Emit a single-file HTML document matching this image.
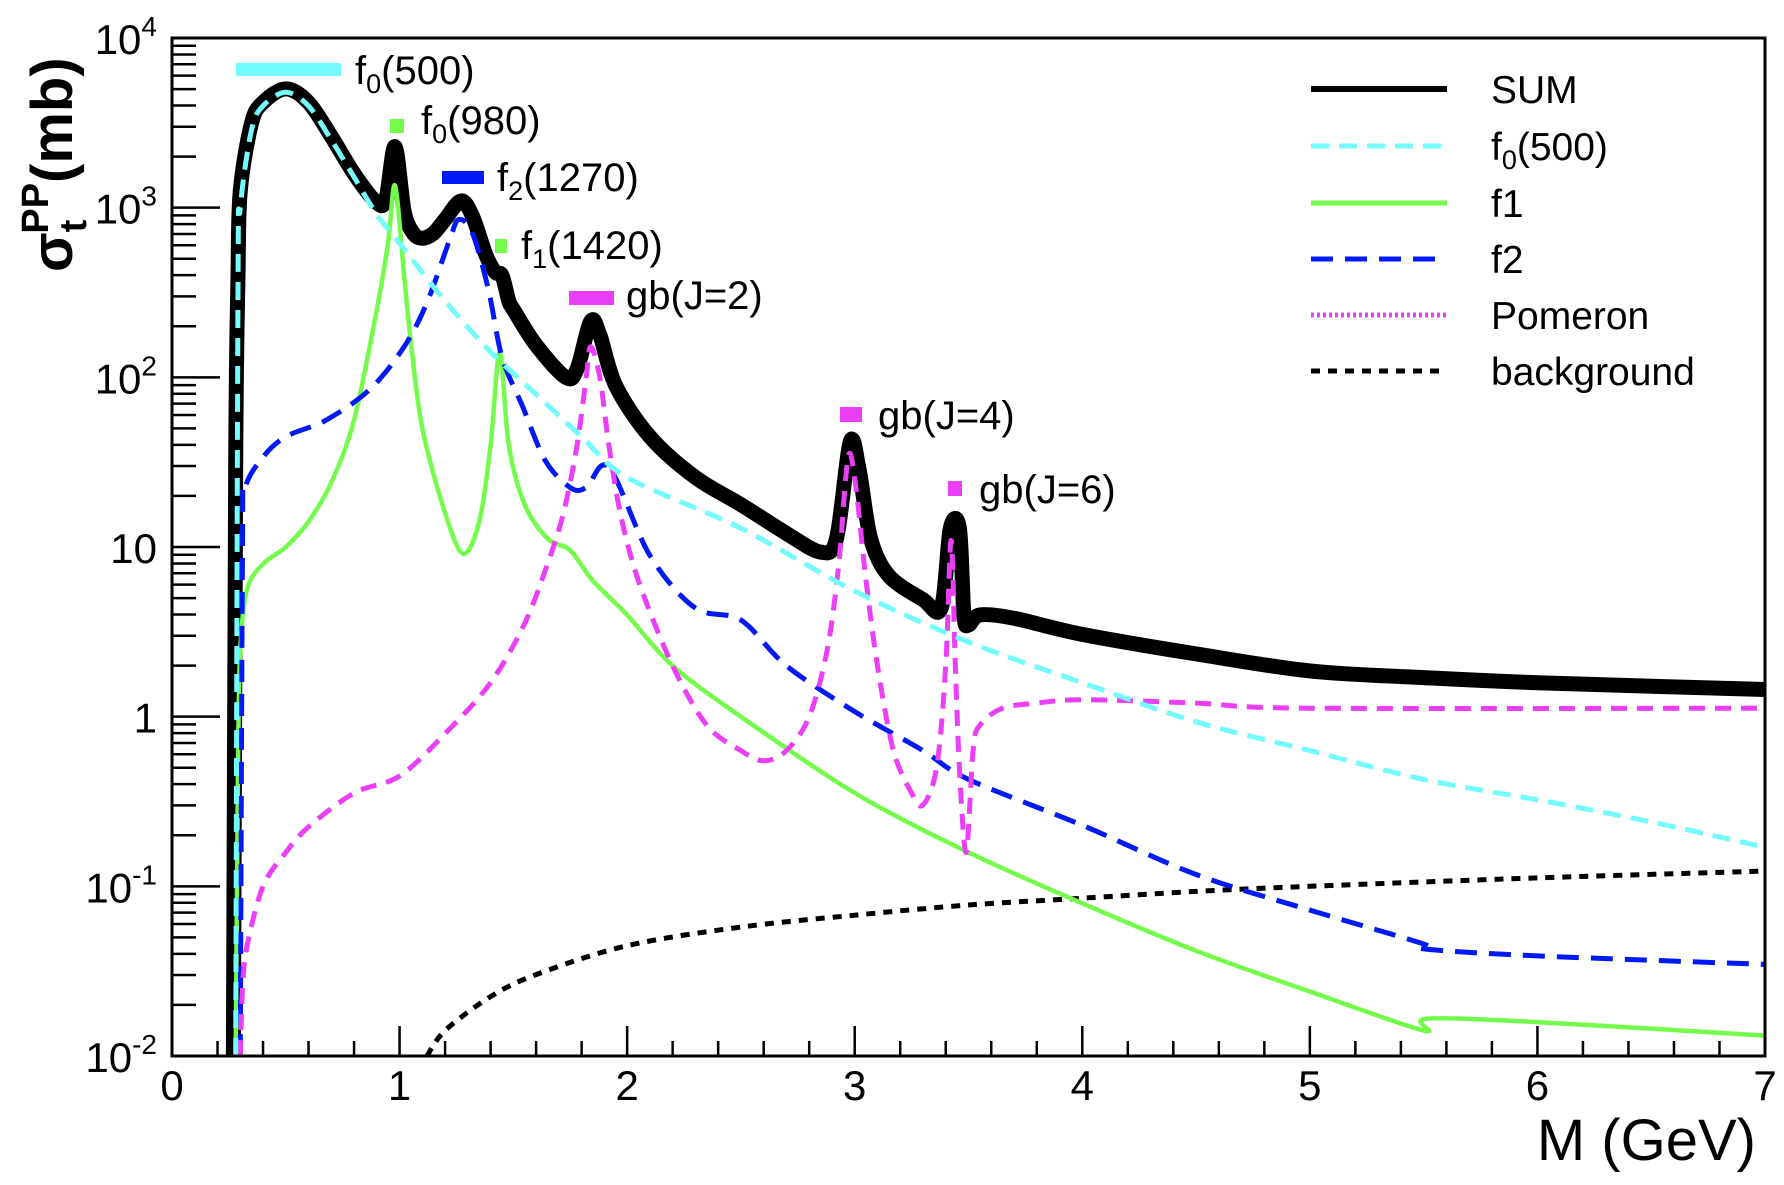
<!DOCTYPE html>
<html><head><meta charset="utf-8"><style>
html,body{margin:0;padding:0;background:#fff;}
svg text{font-family:"Liberation Sans",sans-serif;}
</style></head><body>
<svg id="chart" width="1784" height="1180" xmlns="http://www.w3.org/2000/svg">
<rect width="1784" height="1180" fill="#fff"/>
<g id="ticks"></g>
<g id="series"></g>
<rect x="172" y="38" width="1593" height="1018" fill="none" stroke="#000" stroke-width="3"/>
<g id="labels"></g>
<text x="1756" y="1160" font-size="58" text-anchor="end">M (GeV)</text>
<text transform="translate(72,272) rotate(-90)" font-size="58" font-weight="bold">σ<tspan font-size="38" dy="14">t</tspan><tspan font-size="38" dy="-38" dx="-14">PP</tspan><tspan dy="24">(mb)</tspan></text>
<g font-size="40">
<rect x="236" y="63" width="105" height="13" fill="#73fbfd"/>
<text x="355" y="84">f<tspan font-size="27" dy="9">0</tspan><tspan dy="-9">(500)</tspan></text>
<rect x="390" y="119" width="14" height="14" fill="#75fb4c"/>
<text x="421" y="134">f<tspan font-size="27" dy="9">0</tspan><tspan dy="-9">(980)</tspan></text>
<rect x="442" y="171" width="42" height="13" fill="#0019f5"/>
<text x="497" y="191">f<tspan font-size="27" dy="9">2</tspan><tspan dy="-9">(1270)</tspan></text>
<rect x="495" y="239" width="12" height="14" fill="#75fb4c"/>
<text x="521" y="259">f<tspan font-size="27" dy="9">1</tspan><tspan dy="-9">(1420)</tspan></text>
<rect x="569" y="291" width="45" height="14" fill="#ea3ff7"/>
<text x="626" y="309">gb(J=2)</text>
<rect x="840" y="407" width="22" height="15" fill="#ea3ff7"/>
<text x="878" y="429">gb(J=4)</text>
<rect x="948" y="481" width="14" height="15" fill="#ea3ff7"/>
<text x="979" y="503">gb(J=6)</text>
</g>
<g font-size="39">
<g><line x1="1311" y1="89" x2="1447" y2="89" stroke="#000" stroke-width="6"/><text x="1491" y="103">SUM</text></g>
<g><line x1="1311" y1="146" x2="1447" y2="146" stroke="#73fbfd" stroke-width="5" stroke-dasharray="18,10"/><text x="1491" y="160">f<tspan font-size="27" dy="9">0</tspan><tspan dy="-9">(500)</tspan></text></g>
<g><line x1="1311" y1="203" x2="1447" y2="203" stroke="#75fb4c" stroke-width="5"/><text x="1491" y="217">f1</text></g>
<g><line x1="1311" y1="259" x2="1447" y2="259" stroke="#0019f5" stroke-width="5" stroke-dasharray="22,12"/><text x="1491" y="273">f2</text></g>
<g><line x1="1311" y1="315" x2="1447" y2="315" stroke="#ea3ff7" stroke-width="5" stroke-dasharray="3,3"/><text x="1491" y="329">Pomeron</text></g>
<g><line x1="1311" y1="371" x2="1447" y2="371" stroke="#000" stroke-width="5" stroke-dasharray="9,8"/><text x="1491" y="385">background</text></g>
</g>
</svg>
<script>
const xTickLabels=["0","1","2","3","4","5","6","7"];
const yDecades=[-2,-1,0,1,2,3,4];
const sumX=[0.27,0.28,0.29,0.3,0.35,0.4,0.5,0.6,0.7,0.8,0.9,0.94,0.98,1.02,1.06,1.1,1.15,1.2,1.27,1.32,1.38,1.42,1.45,1.48,1.5,1.6,1.73,1.78,1.84,1.88,1.95,2.1,2.3,2.5,2.7,2.85,2.92,2.98,3.02,3.07,3.15,3.3,3.38,3.42,3.46,3.48,3.5,3.55,3.7,4.0,4.5,5.0,5.5,6.0,7.0];
const sumY=[-2,1.5,2.6,3.1,3.5,3.62,3.7,3.62,3.42,3.2,3.03,3.05,3.36,2.98,2.85,2.82,2.85,2.93,3.04,2.95,2.72,2.62,2.6,2.45,2.4,2.19,2.0,2.05,2.33,2.25,1.95,1.65,1.41,1.25,1.08,0.97,1.05,1.62,1.45,1.05,0.83,0.69,0.64,1.11,1.11,0.6,0.54,0.6,0.58,0.485,0.37,0.27,0.23,0.2,0.16];
const f0X=[0.28,0.29,0.3,0.35,0.4,0.5,0.6,0.7,0.8,0.9,1.0,1.2,1.4,1.6,1.8,2.0,2.5,3.0,3.5,4.0,4.5,5.0,5.5,6.0,6.5,7.0];
const f0Y=[-2,2.5,3.0,3.46,3.6,3.68,3.6,3.4,3.18,2.96,2.79,2.45,2.15,1.9,1.65,1.41,1.11,0.74,0.44,0.2,-0.03,-0.2,-0.37,-0.49,-0.62,-0.77];
const f1X=[0.28,0.29,0.3,0.33,0.4,0.5,0.6,0.7,0.8,0.9,0.95,0.98,1.02,1.05,1.1,1.2,1.28,1.35,1.4,1.44,1.48,1.55,1.65,1.75,1.85,2.0,2.2,2.5,3.0,3.5,4.0,4.5,5.0,5.5,5.51,6.0,7.0];
const f1Y=[-2,-0.3,0.4,0.75,0.9,1.0,1.15,1.38,1.75,2.4,2.8,3.13,2.6,2.2,1.7,1.2,0.96,1.15,1.6,2.15,1.6,1.25,1.05,0.98,0.8,0.6,0.3,0.0,-0.45,-0.8,-1.1,-1.38,-1.62,-1.85,-1.78,-1.8,-1.88];
const f2X=[0.3,0.31,0.32,0.4,0.5,0.68,0.87,1.02,1.12,1.22,1.26,1.32,1.39,1.45,1.54,1.64,1.75,1.82,1.92,2.1,2.3,2.5,2.7,3.0,3.3,3.5,4.0,4.5,5.0,5.5,5.51,6.0,7.0];
const f2Y=[-2,1.0,1.34,1.53,1.65,1.75,1.93,2.18,2.44,2.81,2.93,2.85,2.52,2.12,1.83,1.51,1.35,1.35,1.47,0.95,0.64,0.57,0.3,0.03,-0.2,-0.37,-0.64,-0.93,-1.14,-1.34,-1.37,-1.41,-1.46];
const pomX=[0.3,0.31,0.33,0.4,0.5,0.6,0.8,1.0,1.2,1.4,1.55,1.65,1.72,1.78,1.82,1.84,1.88,1.92,1.97,2.05,2.2,2.35,2.5,2.6,2.7,2.8,2.88,2.93,2.96,2.98,3.01,3.05,3.1,3.17,3.25,3.3,3.36,3.4,3.42,3.43,3.44,3.46,3.49,3.52,3.55,3.65,3.8,4.0,4.5,5.0,7.0];
const pomY=[-2,-1.6,-1.35,-1.0,-0.8,-0.65,-0.45,-0.35,-0.1,0.2,0.55,0.9,1.2,1.6,2.0,2.18,2.0,1.6,1.2,0.8,0.3,-0.05,-0.2,-0.26,-0.2,0.0,0.4,0.9,1.4,1.55,1.3,0.8,0.3,-0.2,-0.45,-0.52,-0.3,0.3,1.0,0.9,0.4,-0.3,-0.8,-0.2,-0.05,0.05,0.08,0.1,0.08,0.05,0.05];
const bkgX=[1.12,1.2,1.4,1.6,2.0,2.5,3.0,3.5,4.0,4.5,5.0,6.0,7.0];
const bkgY=[-2,-1.85,-1.65,-1.52,-1.35,-1.24,-1.17,-1.11,-1.07,-1.03,-1.0,-0.95,-0.91];

const L=172,R=1765,T=38,B=1056;
const X=v=>L+(R-L)*v/7;
const Y=lg=>B-(B-T)*(Math.max(lg,-2)+2)/6;
const NS="http://www.w3.org/2000/svg";
const ticks=document.getElementById('ticks'),labels=document.getElementById('labels'),series=document.getElementById('series');
function mk(tag,attrs,parent){const e=document.createElementNS(NS,tag);for(const k in attrs)e.setAttribute(k,attrs[k]);parent.appendChild(e);return e;}
for(let i=0;i<=35;i++){const v=i*0.2;const major=i%5===0;
 const t=mk('line',{x1:X(v),x2:X(v),y1:B,y2:B-(major?30:15),stroke:'#000','stroke-width':2.5},ticks);
 
 }
xTickLabels.forEach((s,i)=>{const t=mk('text',{x:X(i),y:1100,'font-size':42,'text-anchor':'middle'},labels);t.textContent=s;
 
 });
for(let d=-2;d<4;d++){for(let m=1;m<10;m++){const lg=d+Math.log10(m);
 const t=mk('line',{x1:L,x2:L+(m===1?48:24),y1:Y(lg),y2:Y(lg),stroke:'#000','stroke-width':2.5},ticks);
 
 }}
yDecades.forEach(d=>{const t=mk('text',{x:157,y:Y(d)+16,'font-size':42,'text-anchor':'end'},labels);
 if(d===0)t.textContent='1';else if(d===1)t.textContent='10';
 else{t.textContent='10';const s=mk('tspan',{dy:-18,'font-size':28},t);s.textContent=String(d);}
 
 });
function path(xs,ys,style,name){
 const P=xs.map((x,i)=>[X(x),Y(ys[i])]);
 let d='M'+P[0][0].toFixed(1)+','+P[0][1].toFixed(1);
 for(let i=0;i<P.length-1;i++){const p0=P[Math.max(i-1,0)],p1=P[i],p2=P[i+1],p3=P[Math.min(i+2,P.length-1)];
  const k=0.16;
  const c1=[p1[0]+(p2[0]-p0[0])*k,p1[1]+(p2[1]-p0[1])*k];
  const c2=[p2[0]-(p3[0]-p1[0])*k,p2[1]-(p3[1]-p1[1])*k];
  d+='C'+c1[0].toFixed(1)+','+c1[1].toFixed(1)+' '+c2[0].toFixed(1)+','+c2[1].toFixed(1)+' '+p2[0].toFixed(1)+','+p2[1].toFixed(1);}
 const p=mk('path',Object.assign({d:d,fill:'none','stroke-linejoin':'round'},style),series);
 
 }
path(sumX,sumY,{stroke:'#000','stroke-width':15},'sum-line');
path(bkgX,bkgY,{stroke:'#000','stroke-width':5,'stroke-dasharray':'9,8'},'background-line');
path(f1X,f1Y,{stroke:'#75fb4c','stroke-width':4.5},'f1-line');
path(f2X,f2Y,{stroke:'#0019f5','stroke-width':5,'stroke-dasharray':'22,12'},'f2-line');
path(pomX,pomY,{stroke:'#ea3ff7','stroke-width':5,'stroke-dasharray':'16,10'},'pomeron-line');
path(f0X,f0Y,{stroke:'#73fbfd','stroke-width':5,'stroke-dasharray':'18,10'},'f0-500-line');
</script>
</body></html>
